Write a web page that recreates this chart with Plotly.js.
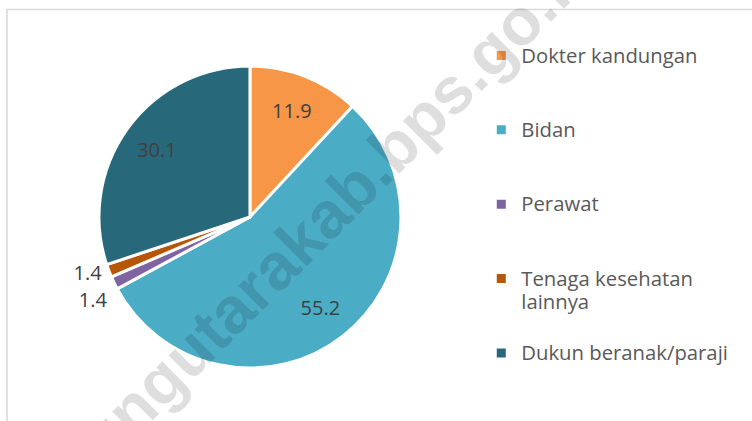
<!DOCTYPE html>
<html>
<head>
<meta charset="utf-8">
<script src="https://cdn.plot.ly/plotly-3.0.1.min.js"></script>
<style>html,body{margin:0;padding:0;background:#fff;}#chart{width:752px;height:421px;}</style>
</head>
<body>
<div id="chart"></div>
<script>
// Data
const categories = ["Dokter kandungan", "Bidan", "Perawat", "Tenaga kesehatan lainnya", "Dukun beranak/paraji"];
const values = [11.9, 55.2, 1.4, 1.4, 30.1];
const colors = ["#F79646", "#4BACC6", "#8064A2", "#B65708", "#27697B"];
const outsideLabel = [false, false, true, true, false];
const legendWraps = {"Tenaga kesehatan lainnya": "Tenaga kesehatan<br>lainnya"};

// legend labels: padded to three lines to reproduce the spaced-out legend
const legendLabels = categories.map((c, i) => {
  const t = legendWraps[c] || c;
  const parts = t.split("<br>");
  const span = parts.map(s => '<span style="font-size:20.3px">' + s + '</span>').join("<br>");
  const pad = i === categories.length - 1 ? 0 : 3 - parts.length;
  return span + "<br> ".repeat(pad);
});

const dom = {x: [0.1316, 0.5332], y: [0.1259, 0.8432]};
const labelFont = {family: "Open Sans", size: 20, color: "#404040"};

// main pie: slices + outside labels of the small slices
const pie = {
  type: "pie",
  labels: legendLabels,
  values: values,
  sort: false,
  direction: "clockwise",
  rotation: 0,
  marker: {colors: colors, line: {color: "#ffffff", width: 3}},
  texttemplate: "%{value:.1f}",
  textposition: outsideLabel.map(o => o ? "outside" : "none"),
  outsidetextfont: labelFont,
  hoverinfo: "none",
  domain: dom
};

// transparent ring overlay: places the inside labels further out, like the original
const ring = {
  type: "pie",
  labels: categories,
  values: values,
  sort: false,
  direction: "clockwise",
  rotation: 0,
  hole: 0.52,
  showlegend: false,
  marker: {colors: categories.map(() => "rgba(0,0,0,0)"), line: {width: 0}},
  texttemplate: "%{value:.1f}",
  textposition: outsideLabel.map(o => o ? "none" : "inside"),
  insidetextorientation: "horizontal",
  insidetextfont: labelFont,
  hoverinfo: "none",
  domain: dom
};

const layout = {
  width: 752, height: 421,
  margin: {l: 0, r: 0, t: 0, b: 0},
  paper_bgcolor: "#ffffff",
  showlegend: true,
  legend: {
    x: 0.64, xanchor: "left", y: 0.912, yanchor: "top",
    valign: "top",
    font: {family: "Open Sans", size: 18.3, color: "#595959"},
    bgcolor: "rgba(0,0,0,0)"
  },
  shapes: [{
    type: "rect", xref: "paper", yref: "paper",
    x0: 7/752, x1: 1.02, y0: -0.02, y1: 1 - 9.5/421,
    line: {color: "#d9d9d9", width: 1.5}
  }],
  annotations: [{
    text: "lampungutarakab.bps.go.id",
    xref: "paper", yref: "paper", x: 0.3769, y: 0.3886,
    showarrow: false, textangle: -45,
    font: {family: "Liberation Sans", size: 65.5, weight: 700, color: "rgba(0,0,0,0.13)"}
  }]
};

Plotly.newPlot("chart", [pie, ring], layout, {staticPlot: true, displayModeBar: false}).then(() => {
  document.querySelectorAll("path.textline").forEach(p => p.remove());
});
</script>
</body>
</html>
